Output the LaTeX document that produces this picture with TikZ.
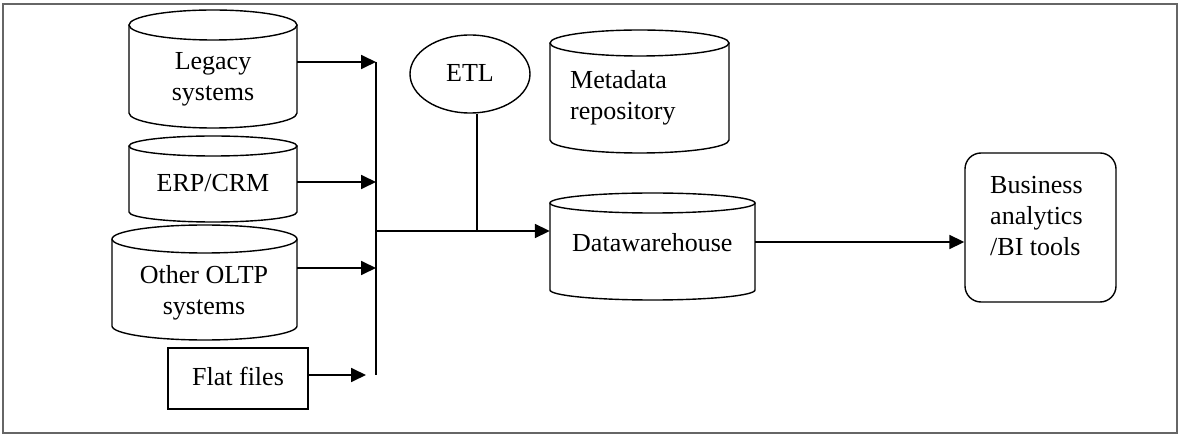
\documentclass[tikz,border=0pt]{standalone}
\usepackage{fontspec}
\setmainfont{Liberation Serif}
\usetikzlibrary{arrows.meta,shapes.geometric}
\tikzset{
  ln/.style={line width=1.4pt,black},
  conn/.style={line width=1.8pt,black},
  arr/.style={conn,-{Triangle[length=15pt,width=14pt]}},
  txt/.style={font=\fontsize{26}{31}\selectfont,inner sep=0pt},
}
\newcommand\dbcyl[6]{% name, cx, ytop, ybot, half width, ry  (pixel units, y downward)
  \pgfmathsetmacro\cyA{#2-#5}%
  \pgfmathsetmacro\cyB{#2+#5}%
  \pgfmathsetmacro\cyM{(#3+#4)/2}%
  \pgfmathsetmacro\cyH{#4-#3}%
  \pgfmathsetmacro\cyW{2*#5}%
  \node[inner sep=0pt,minimum width=\cyW pt,minimum height=\cyH pt] (#1) at (#2,-\cyM) {};
  \draw[ln,fill=white] (\cyA,-#3) -- (\cyA,-#4) arc[start angle=180,end angle=360,x radius=#5,y radius=#6] -- (\cyB,-#3);
  \draw[ln] (#2,-#3) ellipse[x radius=#5,y radius=#6];
}
\begin{document}
\begin{tikzpicture}[x=1pt,y=1pt]
\useasboundingbox (0,0) rectangle (1182,-435);
\fill[white] (0,0) rectangle (1182,-435);
\draw[line width=1.8pt,black!60] (3,-4) rectangle (1177,-433);

% sources
\dbcyl{legacy}{213}{25}{113}{84}{15}
\node[txt,align=center] (legacyT) at (213,-79) {Legacy\\systems};
\dbcyl{erp}{213}{146}{212}{84}{10}
\node[txt] (erpT) at (213,-183) {ERP/CRM};
\dbcyl{oltp}{204.5}{239}{326}{92.5}{14}
\node[txt,align=center] (oltpT) at (204,-293) {Other OLTP\\systems};
\node[ln,draw,minimum width=140pt,minimum height=61pt,inner sep=0pt] (flat) at (238,-378.5) {};
\node[txt] (flatT) at (238,-376) {Flat files};

% ETL, metadata, warehouse
\node[ln,draw,ellipse,minimum width=120pt,minimum height=78pt,inner sep=0pt] (etl) at (470,-74) {};
\node[txt] (etlT) at (470,-73) {ETL};
\dbcyl{meta}{639.5}{43}{140}{89.5}{13}
\node[txt,align=left,anchor=west] (metaT) at (570,-98) {Metadata\\repository};
\dbcyl{dw}{652.5}{203}{290}{102.5}{10}
\node[txt,anchor=west] (dwT) at (572,-243) {Datawarehouse};

% BI tools
\node[ln,draw,rounded corners=16pt,minimum width=151pt,minimum height=149pt,inner sep=0pt] (bi) at (1040.5,-227.5) {};
\node[txt,align=left,anchor=west] (biT) at (990,-216) {Business\\analytics\\/BI tools};

% bus coordinates
\coordinate (in1) at (376,-62);
\coordinate (in2) at (376,-182);
\coordinate (in3) at (376,-268);
\coordinate (in4) at (366,-375);
\coordinate (busB) at (376,-375);
\coordinate (busM) at (376,-231);
\coordinate (jn) at (477,-231);
\coordinate (out) at (760,-242);

% connectors
\draw[conn] (in1) -- (busB);
\draw[arr] (legacy.east |- in1) -- (in1);
\draw[arr] (erp.east |- in2) -- (in2);
\draw[arr] (oltp.east |- in3) -- (in3);
\draw[arr] (flat.east |- in4) -- (in4);
\draw[arr] (busM) -- (dw.west |- busM);
\draw[conn] (jn |- etl.south) -- (jn);
\draw[arr] (dw.east |- out) -- (bi.west |- out);
\end{tikzpicture}
\end{document}
